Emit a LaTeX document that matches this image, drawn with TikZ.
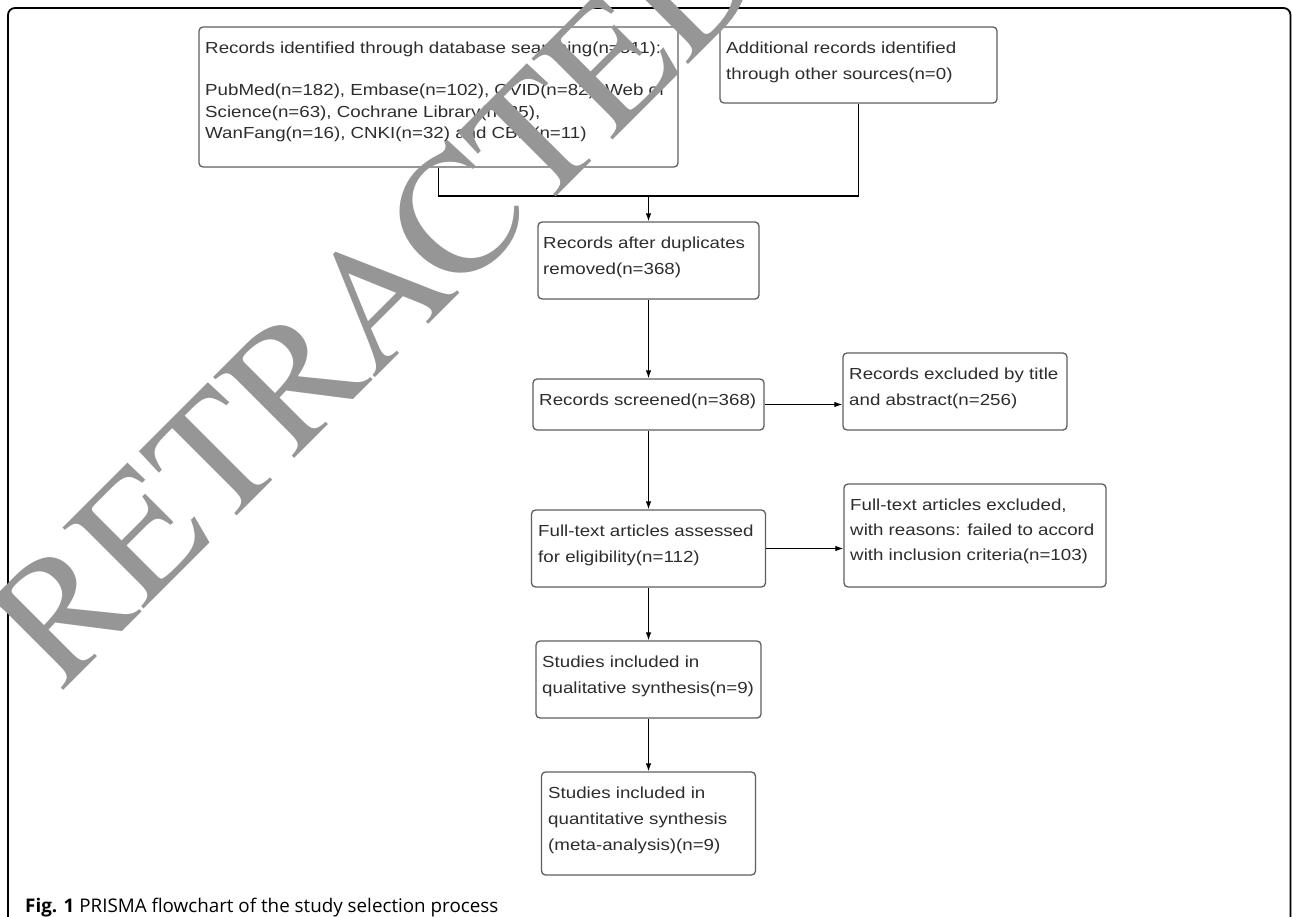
\documentclass[tikz,border=0pt]{standalone}
\usepackage{fontspec}
\setmainfont{Liberation Sans}
\newfontfamily\capfont{Open Sans}
\newfontfamily\wmfont{TeX Gyre Termes}
\usetikzlibrary{arrows.meta}
\definecolor{boxline}{RGB}{95,95,95}
\definecolor{txtc}{RGB}{45,45,45}
\definecolor{wmc}{RGB}{150,150,150}
\begin{document}
\begin{tikzpicture}[x=1pt,y=1pt,
  pbox/.style={draw=boxline, line width=1.3pt, rounded corners=4pt, inner sep=0pt},
  ptext/.style={anchor=north west, inner sep=0pt, align=left, text=txtc, xscale=1.17, font=\fontsize{16}{26}\selectfont},
  arr/.style={line width=1.1pt, -{Latex[length=8pt,width=5.5pt]}},
  conn/.style={line width=1.1pt},
  wmtext/.style={anchor=base west, rotate=45, inner sep=0pt, outer sep=0pt, text=wmc, font=\wmfont\fontsize{173}{173}\selectfont}]
\useasboundingbox (0,0) rectangle (1292,-917);
\clip (0,0) rectangle (1292,-917);
\fill[white] (0,0) rectangle (1292,-917);
% outer frame
\draw[line width=1.8pt, rounded corners=7pt] (8,-8) rectangle (1290.5,-960);
% boxes
\node[pbox, minimum width=479pt, minimum height=140pt] (b1) at (438.5,-97) {};
\node[pbox, minimum width=277pt, minimum height=76pt] (b2) at (858.5,-65) {};
\node[pbox, minimum width=221pt, minimum height=77pt] (b3) at (648.5,-260.5) {};
\node[pbox, minimum width=231pt, minimum height=51pt] (b4) at (648.5,-404.5) {};
\node[pbox, minimum width=224pt, minimum height=77pt] (b5) at (955,-391.5) {};
\node[pbox, minimum width=234pt, minimum height=77pt] (b6) at (648.5,-548.5) {};
\node[pbox, minimum width=262pt, minimum height=103pt] (b7) at (975,-535.5) {};
\node[pbox, minimum width=225pt, minimum height=77pt] (b8) at (648.5,-679.5) {};
\node[pbox, minimum width=214pt, minimum height=103pt] (b9) at (648.5,-823.5) {};
% texts
\node[ptext] (t1a) at (205,-41) {\rule{0pt}{12pt}Records identified through database searching(n=511):};
\node[ptext, font=\fontsize{16}{21.5}\selectfont] (t1b) at (205,-83.5) {\rule{0pt}{12pt}PubMed(n=182), Embase(n=102), OVID(n=82), Web of\\Science(n=63), Cochrane Library(n=25),\\WanFang(n=16), CNKI(n=32) and CBM(n=11)};
\node[ptext] (t2) at (726,-41) {\rule{0pt}{12pt}Additional records identified\\through other sources(n=0)};
\node[ptext] (t3) at (543,-236) {\rule{0pt}{12pt}Records after duplicates\\removed(n=368)};
\node[ptext] (t4) at (539,-393) {\rule{0pt}{12pt}Records screened(n=368)};
\node[ptext] (t5) at (849,-367) {\rule{0pt}{12pt}Records excluded by title\\and abstract(n=256)};
\node[ptext] (t6) at (538,-524) {\rule{0pt}{12pt}Full-text articles assessed\\for eligibility(n=112)};
\node[ptext, font=\fontsize{16}{25}\selectfont] (t7) at (850,-498) {\rule{0pt}{12pt}Full-text articles excluded,\\with reasons: failed to accord\\with inclusion criteria(n=103)};
\node[ptext] (t8) at (542,-655) {\rule{0pt}{12pt}Studies included in\\qualitative synthesis(n=9)};
\node[ptext] (t9) at (548,-786) {\rule{0pt}{12pt}Studies included in\\quantitative synthesis\\(meta-analysis)(n=9)};
% connectors
\coordinate (m1) at (438.5,-196);
\coordinate (m2) at (858.5,-196);
\coordinate (mj) at (648.5,-196);
\draw[conn] (b1.south) -- (m1) -- (m2) -- (b2.south);
\draw[arr] (mj) -- (b3.north);
\draw[arr] (b3.south) -- (b4.north);
\draw[arr] (b4.east) -- (b4.east -| b5.west);
\draw[arr] (b4.south) -- (b6.north);
\draw[arr] (b6.east) -- (b6.east -| b7.west);
\draw[arr] (b6.south) -- (b8.north);
\draw[arr] (b8.south) -- (b9.north);
% caption
\node[anchor=base west, inner sep=0pt, font=\capfont\fontsize{18.8}{20}\selectfont, text=black] (cap) at (25,-912) {\textbf{Fig. 1} PRISMA flowchart of the study selection process};
% watermark
\node[wmtext] (wmark) at (61,-692) {RETRACTED};
\end{tikzpicture}
\end{document}
